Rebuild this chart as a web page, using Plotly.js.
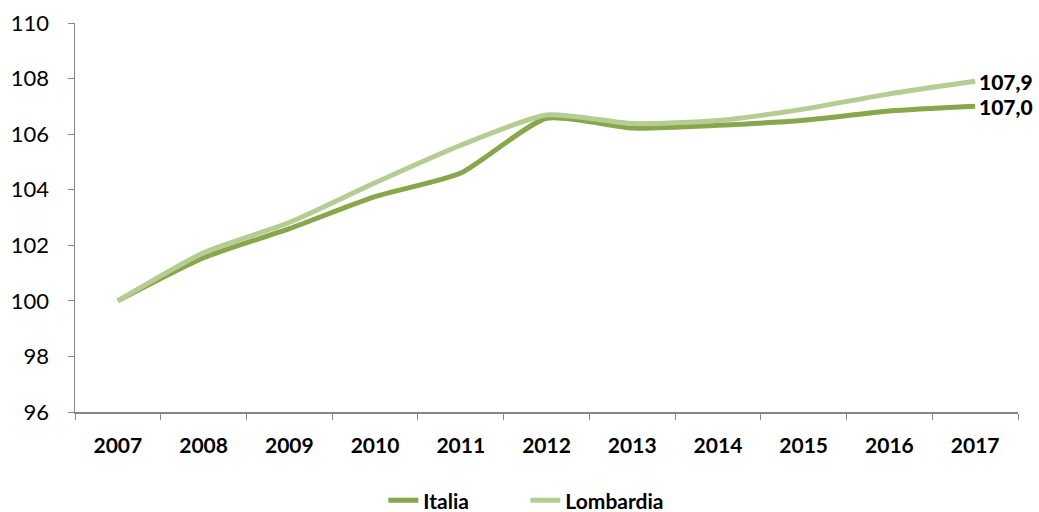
<!DOCTYPE html>
<html><head><meta charset="utf-8">
<script src="https://cdn.plot.ly/plotly-3.0.1.min.js"></script>
<style>html,body{margin:0;padding:0;background:#fff}#c{width:1039px;height:512px}</style>
</head><body><div id="c"></div>
<script>
const years = ['2007','2008','2009','2010','2011','2012','2013','2014','2015','2016','2017'];
const italia = [100, 101.55, 102.6, 103.75, 104.6, 106.57, 106.22, 106.32, 106.5, 106.83, 107.0];
const lombardia = [100, 101.73, 102.82, 104.25, 105.6, 106.69, 106.38, 106.49, 106.9, 107.45, 107.9];
const endLabels = ['107,0', '107,9'];

const font = 'Lato, "Open Sans", sans-serif';
const traces = [
  {x: years, y: italia, name: 'Italia', type: 'scatter', mode: 'lines',
   line: {color: '#88a64a', width: 5, shape: 'spline', smoothing: 0.6}},
  {x: years, y: lombardia, name: 'Lombardia', type: 'scatter', mode: 'lines',
   line: {color: '#b5cc92', width: 5, shape: 'spline', smoothing: 0.6}}
];
const last = years.length - 1;
const layout = {
  width: 1039, height: 512,
  margin: {l: 75, r: 21, t: 23, b: 100, autoexpand: false},
  paper_bgcolor: '#fff', plot_bgcolor: '#fff',
  font: {family: font, color: '#000', size: 21},
  showlegend: true,
  legend: {orientation: 'h', x: 0.327, xanchor: 'left', y: -0.228, yanchor: 'middle',
           entrywidth: 97, entrywidthmode: 'pixels',
           font: {family: font, size: 21, color: '#000', weight: 'bold'}, tracegroupgap: 0},
  xaxis: {type: 'category', tickson: 'boundaries', ticks: 'outside', ticklen: 6,
          tickcolor: '#868686', showline: true, linecolor: '#868686', linewidth: 1.5,
          showgrid: false, zeroline: false, range: [-0.5, 10.5], ticklabelstandoff: 14,
          tickfont: {family: font, size: 21, weight: 'bold'}},
  yaxis: {range: [96, 110], dtick: 2, ticks: 'outside', ticklen: 6, tickcolor: '#868686',
          showline: true, linecolor: '#868686', linewidth: 1.5, showgrid: false, zeroline: false,
          ticklabelstandoff: 14, tickfont: {family: font, size: 22}},
  annotations: [
    {xref: 'x', yref: 'y', x: last, y: italia[last], text: endLabels[0], showarrow: false,
     xanchor: 'left', yanchor: 'middle', xshift: 2, font: {family: font, size: 21, color: '#000', weight: 900}},
    {xref: 'x', yref: 'y', x: last, y: lombardia[last], text: endLabels[1], showarrow: false,
     xanchor: 'left', yanchor: 'middle', xshift: 2, font: {family: font, size: 21, color: '#000', weight: 900}}
  ]
};
Plotly.newPlot('c', traces, layout, {displayModeBar: false, staticPlot: true});
</script></body></html>
